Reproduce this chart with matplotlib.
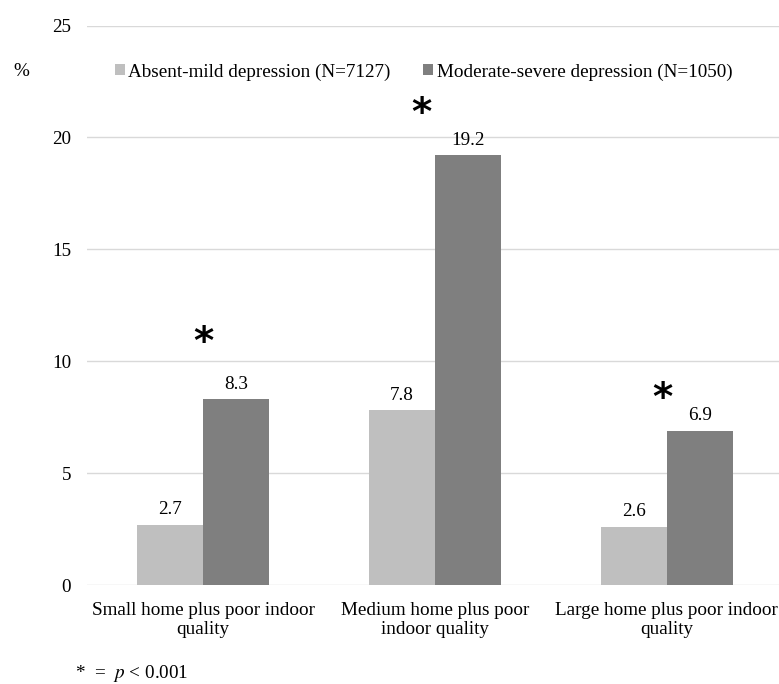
import matplotlib.pyplot as plt
import numpy as np

# data
categories = ["Small home plus poor indoor\nquality",
              "Medium home plus poor\nindoor quality",
              "Large home plus poor indoor\nquality"]
absent_mild = [2.7, 7.8, 2.6]
moderate_severe = [8.3, 19.2, 6.9]
star_heights = [10.8, 21.05, 8.3]
star_offsets = [0.0, -0.057, -0.02]
series_names = ["Absent-mild depression (N=7127)", "Moderate-severe depression (N=1050)"]

plt.rcParams['font.family'] = ['Liberation Serif', 'DejaVu Serif']
plt.rcParams['mathtext.fontset'] = 'stix'
fs = 13.8

fig = plt.figure(figsize=(7.79, 6.84), dpi=100)
ax = fig.add_axes([87/779, 1 - 585/684, 1 - 87/779, (585 - 25.5)/684])

x = np.arange(len(categories))
w = 0.285
light = '#bfbfbf'
dark = '#7f7f7f'

b1 = ax.bar(x - w/2, absent_mild, w, color=light, label=series_names[0], zorder=2)
b2 = ax.bar(x + w/2, moderate_severe, w, color=dark, label=series_names[1], zorder=2)

for i in range(len(x)):
    ax.text(x[i] - w/2, absent_mild[i] + 0.3, f"{absent_mild[i]:.1f}",
            ha='center', va='bottom', fontsize=fs)
    ax.text(x[i] + w/2, moderate_severe[i] + 0.3, f"{moderate_severe[i]:.1f}",
            ha='center', va='bottom', fontsize=fs)
    ax.text(x[i] + star_offsets[i], star_heights[i], "*", ha='center', va='center',
            fontsize=28, fontweight='bold', family='DejaVu Sans')

ax.set_ylim(0, 25)
ax.set_xlim(-0.502, 2.485)
ax.set_yticks([0, 5, 10, 15, 20, 25])
ax.set_xticks(x)
ax.set_xticklabels(categories, fontsize=fs, linespacing=1.2)
ax.tick_params(axis='y', labelsize=fs, length=0, pad=11.5)
ax.tick_params(axis='x', length=0, pad=12)
ax.grid(axis='y', color='#d9d9d9', linewidth=1, zorder=0)
ax.set_axisbelow(True)
for s in ax.spines.values():
    s.set_visible(False)

fig.text(13/779, 1 - 72/684, "%", fontsize=fs, va='center')
fig.legend(handles=[b1, b2], labels=series_names, loc='center left',
           bbox_to_anchor=(115/779, 1 - 72/684), ncol=2, frameon=False, fontsize=fs,
           handlelength=0.5, handleheight=0.5, handletextpad=0.2, columnspacing=1.7,
           borderpad=0, borderaxespad=0)

fig.text(75/779, 1 - 674/684, "*  =  $\\mathit{p}$ < 0.001", fontsize=fs, va='center')

fig.savefig("out.png", dpi=100)
